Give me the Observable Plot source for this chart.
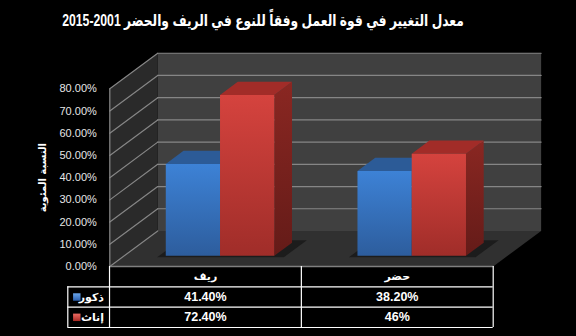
<!DOCTYPE html>
<html><head><meta charset="utf-8">
<script src="https://cdn.jsdelivr.net/npm/d3@7"></script>
<script src="https://cdn.jsdelivr.net/npm/@observablehq/plot@0.6"></script>
<style>
html,body{margin:0;padding:0;background:#000;}
#wrap{position:relative;width:576px;height:336px;background:#000;overflow:hidden;}
#title{position:absolute;left:0;top:11px;width:526px;text-align:center;color:#fff;font:bold 16px/20px "Liberation Sans","DejaVu Sans",sans-serif;direction:rtl;white-space:nowrap;transform:scaleX(0.765);transform-origin:263px 50%;}
#chart{position:absolute;left:0;top:40px;}
#table{position:absolute;left:0;top:262px;}
</style></head><body>
<div id="wrap"><div id="title"></div><div id="chart"></div><div id="table"></div></div>
<script>
// ---- data ----
const titleText = "معدل التغيير في قوة العمل وفقاً للنوع في الريف والحضر 2001-2015";
const yLabel = "النسبة المئوية";
const categories = ["ريف", "حضر"];
const seriesNames = ["ذكور", "إناث"];
const males = [41.4, 38.2];
const females = [72.4, 46];
const maleLabels = ["41.40%", "38.20%"];
const femaleLabels = ["72.40%", "46%"];
const yTicks = [0, 10, 20, 30, 40, 50, 60, 70, 80];
const yTickLabels = ["0.00%", "10.00%", "20.00%", "30.00%", "40.00%", "50.00%", "60.00%", "70.00%", "80.00%"];

// ---- layout / style ----
const series = [males, females];
const seriesLabels = [maleLabels, femaleLabels];
const n = categories.length;
const yMax = 80;
const KX = 0.25, KY = 16;          // oblique depth offset at z = 1 (column units, % points)
const Z_FRONT = 0.3, Z_BACK = 0.67; // bar depth range
const BAR_W = 0.283;
const pad = (1 - series.length * BAR_W) / 2;
const P = (x, y, z) => ({x: x + z * KX, y: y + z * KY});
const poly = (id, pts) => pts.map(p => ({id, ...p}));
const fontLatin = "'Liberation Sans', 'DejaVu Sans', sans-serif";

document.getElementById("title").textContent = titleText;

const backWall = poly("back", [P(0,0,1), P(n,0,1), P(n,yMax,1), P(0,yMax,1)]);
const sideWall = poly("side", [P(0,0,0), P(0,yMax,0), P(0,yMax,1), P(0,0,1)]);
const floorPoly = poly("floor", [P(0,0,0), P(n,0,0), P(n,0,1), P(0,0,1)]);
const gridBack = yTicks.filter(v => v > 0).flatMap(v => poly("b" + v, [P(0,v,1), P(n,v,1)]));
const gridSide = yTicks.flatMap(v => poly("s" + v, [P(0,v,0), P(0,v,1)]));
const frontEdge = poly("fe", [P(0,0,0), P(0,yMax,0)]);
const floorEdge = poly("fl", [P(0,0,0), P(n,0,0)]);
const shadow = categories.flatMap((c, i) => {
  const x1 = i + pad - 0.035, x2 = i + pad + series.length * BAR_W + 0.06;
  return poly("sh" + i, [P(x1,0,Z_FRONT-0.04), P(x2,0,Z_FRONT-0.04), P(x2,0,Z_BACK+0.07), P(x1,0,Z_BACK+0.07)]);
});

function barFaces(j) {
  const front = [], top = [], side = [];
  series[j].forEach((v, i) => {
    const x1 = i + pad + j * BAR_W, x2 = x1 + BAR_W;
    front.push(...poly("f" + i, [P(x1,0,Z_FRONT), P(x2,0,Z_FRONT), P(x2,v,Z_FRONT), P(x1,v,Z_FRONT)]));
    top.push(...poly("t" + i, [P(x1,v,Z_FRONT), P(x2,v,Z_FRONT), P(x2,v,Z_BACK), P(x1,v,Z_BACK)]));
    side.push(...poly("s" + i, [P(x2,0,Z_FRONT), P(x2,0,Z_BACK), P(x2,v,Z_BACK), P(x2,v,Z_FRONT)]));
  });
  return {front, top, side};
}
const face = (data, fill, extra = {}) => Plot.line(data, {x: "x", y: "y", z: "id", fill, stroke: "none", ...extra});
const edge = (data, stroke, w = 1) => Plot.line(data, {x: "x", y: "y", z: "id", stroke, strokeWidth: w});

const seriesStyle = [
  {front: "url(#gBlue)", top: "#2c5b97", side: "url(#gBlueSide)"},
  {front: "url(#gRed)", top: "#a22c28", side: "url(#gRedSide)"}
];
const barMarks = series.flatMap((s, j) => {
  const f = barFaces(j);
  return [face(f.side, seriesStyle[j].side), face(f.top, seriesStyle[j].top), face(f.front, seriesStyle[j].front)];
});

const chart = Plot.plot({
  width: 576, height: 232,
  marginLeft: 109.3, marginRight: 83.3, marginTop: 48.3, marginBottom: 6,
  x: {domain: [0, n], axis: null},
  y: {domain: [0, yMax], ticks: yTicks, tickFormat: d => yTickLabels[yTicks.indexOf(d)], tickSize: 0, tickPadding: 13, label: null},
  style: {background: "transparent", color: "#e6e6e6", fontSize: "11px", fontFamily: fontLatin},
  marks: [
    face(backWall, "#404040"),
    face(sideWall, "#2a2a2a"),
    face(floorPoly, "#303030"),
    edge(gridBack, "#868686", 1.2),
    edge(gridSide, "#868686", 1.2),
    edge(frontEdge, "#8a8a8a", 1.2),
    edge(floorEdge, "#808080", 1.5),
    face(shadow, "#161616", {fillOpacity: 0.75}),
    ...barMarks,
    Plot.text([yLabel], {frameAnchor: "left", textAnchor: "middle", rotate: -90, dx: -67, text: d => d, fill: "white", fontWeight: "bold", fontSize: 10, fontFamily: "'DejaVu Sans', sans-serif"})
  ]
});

function addDefs(node) {
  const svg = node.tagName.toLowerCase() === "svg" ? node : node.querySelector("svg");
  const defs = d3.select(svg).insert("defs", ":first-child");
  const grads = {
    gBlue: ["#3d82d6", "#2d5d9d"],
    gBlueSide: ["#285190", "#1f3f70"],
    gRed: ["#d5433e", "#a02d29"],
    gRedSide: ["#8a2722", "#641b18"],
    gSwBlue: ["#6aa6ec", "#2a5fae"],
    gSwRed: ["#ec6a62", "#a82a24"]
  };
  for (const [id, [c0, c1]] of Object.entries(grads)) {
    const g = defs.append("linearGradient").attr("id", id).attr("x1", 0).attr("y1", 0).attr("x2", 0).attr("y2", 1);
    g.append("stop").attr("offset", "0%").attr("stop-color", c0);
    g.append("stop").attr("offset", "100%").attr("stop-color", c1);
  }
}
addDefs(chart);
document.getElementById("chart").append(chart);

// ---- data table ----
const L = 0.2175; // legend column width (column units)
const rows = seriesNames.map((name, j) => ({name, j}));
const cells = series.flatMap((s, j) => s.map((v, i) => ({i, j, label: seriesLabels[j][i]})));
const table = Plot.plot({
  width: 576, height: 74,
  marginLeft: 67.3, marginRight: 83.3, marginTop: 4, marginBottom: 9,
  x: {domain: [-L, n], axis: null},
  y: {domain: [series.length + 1, 0], axis: null},
  style: {background: "transparent", color: "white", fontFamily: fontLatin},
  marks: [
    Plot.ruleX(d3.range(n + 1), {x: d => d, y1: 0, y2: series.length + 1, stroke: "white", strokeWidth: 1.2}),
    Plot.ruleX([-L], {x: d => d, y1: 1, y2: series.length + 1, stroke: "white", strokeWidth: 1.2}),
    Plot.ruleY(d3.range(1, series.length + 2), {y: d => d, x1: -L, x2: n, stroke: "white", strokeWidth: 1.2}),
    Plot.text(categories, {x: (d, i) => i + 0.5, y: 0.5, text: d => d, fill: "white", fontWeight: "bold", fontSize: 11, fontFamily: "'DejaVu Sans', sans-serif"}),
    Plot.text(cells, {x: d => d.i + 0.5, y: d => d.j + 1.5, text: "label", fill: "white", fontWeight: "bold", fontSize: 12.5}),
    Plot.text(rows, {x: 0, dx: -5.5, y: d => d.j + 1.5, text: "name", textAnchor: "end", fill: "white", fontWeight: "bold", fontSize: 11, fontFamily: "'DejaVu Sans', sans-serif"}),
    Plot.dot(rows, {x: -L, dx: 9, y: d => d.j + 1.5, symbol: "square", r: 4.2, fill: d => d.j === 0 ? "url(#gSwBlue)" : "url(#gSwRed)", stroke: "none"})
  ]
});
addDefs(table);
document.getElementById("table").append(table);
</script>
</body></html>
